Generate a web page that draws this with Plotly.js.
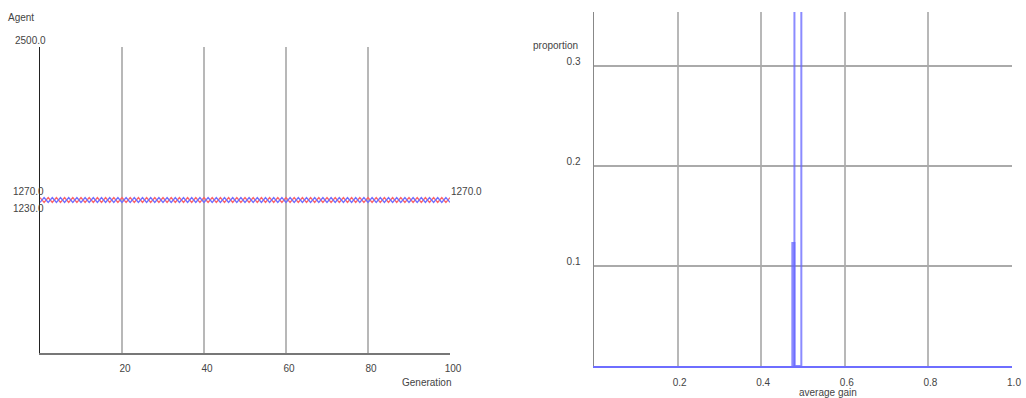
<!DOCTYPE html>
<html>
<head>
<meta charset="utf-8">
<script src="https://cdn.plot.ly/plotly-3.0.1.min.js"></script>
<style>html,body{margin:0;padding:0;background:#fff;}#chart{width:1026px;height:398px;}</style>
</head>
<body>
<div id="chart"></div>
<script>
// ---- Left chart: agent counts per generation ----
const generations = [
  0,1,2,3,4,5,6,7,8,9,
  10,11,12,13,14,15,16,17,18,19,
  20,21,22,23,24,25,26,27,28,29,
  30,31,32,33,34,35,36,37,38,39,
  40,41,42,43,44,45,46,47,48,49,
  50,51,52,53,54,55,56,57,58,59,
  60,61,62,63,64,65,66,67,68,69,
  70,71,72,73,74,75,76,77,78,79,
  80,81,82,83,84,85,86,87,88,89,
  90,91,92,93,94,95,96,97,98,99,
  100
];
const redAgents = [
  1270,1230,1270,1230,1270,1230,1270,1230,1270,1230,
  1270,1230,1270,1230,1270,1230,1270,1230,1270,1230,
  1270,1230,1270,1230,1270,1230,1270,1230,1270,1230,
  1270,1230,1270,1230,1270,1230,1270,1230,1270,1230,
  1270,1230,1270,1230,1270,1230,1270,1230,1270,1230,
  1270,1230,1270,1230,1270,1230,1270,1230,1270,1230,
  1270,1230,1270,1230,1270,1230,1270,1230,1270,1230,
  1270,1230,1270,1230,1270,1230,1270,1230,1270,1230,
  1270,1230,1270,1230,1270,1230,1270,1230,1270,1230,
  1270,1230,1270,1230,1270,1230,1270,1230,1270,1230,
  1270
];
const blueAgents = [
  1230,1270,1230,1270,1230,1270,1230,1270,1230,1270,
  1230,1270,1230,1270,1230,1270,1230,1270,1230,1270,
  1230,1270,1230,1270,1230,1270,1230,1270,1230,1270,
  1230,1270,1230,1270,1230,1270,1230,1270,1230,1270,
  1230,1270,1230,1270,1230,1270,1230,1270,1230,1270,
  1230,1270,1230,1270,1230,1270,1230,1270,1230,1270,
  1230,1270,1230,1270,1230,1270,1230,1270,1230,1270,
  1230,1270,1230,1270,1230,1270,1230,1270,1230,1270,
  1230,1270,1230,1270,1230,1270,1230,1270,1230,1270,
  1230,1270,1230,1270,1230,1270,1230,1270,1230,1270,
  1230
];
const leftXTicks = [20, 40, 60, 80, 100];
const leftYMax = 2500;
const leftYLabelTop = '2500.0';
const leftYLabelHigh = 1270;
const leftYLabelLow = 1230;

// ---- Right chart: histogram of average gain ----
const binEdges = [0.4745, 0.4795, 0.496];
const proportions = [0.123, 0.877];
const rightXTicks = [0.2, 0.4, 0.6, 0.8, 1.0];
const rightXTickText = ['0.2', '0.4', '0.6', '0.8', '1.0'];
const rightYTicks = [0.1, 0.2, 0.3];
const rightYTickText = ['0.1', '0.2', '0.3'];

const W = 1026, H = 398;
const px = v => v / W;
const py = v => 1 - v / H;

const FONT = {family: 'Liberation Sans, Arial, sans-serif', size: 10, color: '#444'};

const barCenters = proportions.map((_, i) => (binEdges[i] + binEdges[i + 1]) / 2);
const barWidths = proportions.map((_, i) => binEdges[i + 1] - binEdges[i]);

const traces = [
  {x: generations, y: redAgents, type: 'scatter', mode: 'lines',
   line: {color: 'rgb(255,100,100)', width: 1.3}, xaxis: 'x', yaxis: 'y', hoverinfo: 'skip'},
  {x: generations, y: blueAgents, type: 'scatter', mode: 'lines',
   line: {color: 'rgb(110,110,255)', width: 1.3}, xaxis: 'x', yaxis: 'y', hoverinfo: 'skip'},
  {x: barCenters, y: proportions, width: barWidths, type: 'bar',
   marker: {color: 'rgba(0,0,0,0)', line: {color: 'rgba(100,100,255,0.75)', width: 2}},
   xaxis: 'x2', yaxis: 'y2', hoverinfo: 'skip'}
];

const fmt = v => v.toFixed(1);

const ann = (text, x, y) => ({text, xref: 'paper', yref: 'paper', x: px(x), y: py(y),
  xanchor: 'center', yanchor: 'middle', showarrow: false, font: FONT});

const layout = {
  width: W, height: H,
  margin: {l: 0, r: 0, t: 0, b: 0},
  paper_bgcolor: '#fff', plot_bgcolor: '#fff',
  showlegend: false,
  font: FONT,
  xaxis: {
    domain: [px(40), px(450)], range: [0, 100],
    tickvals: leftXTicks, ticks: '', showgrid: true, gridcolor: '#b8b8b8', gridwidth: 2,
    zeroline: false, showline: true, linecolor: '#777', linewidth: 1.5,
    ticklabelstandoff: 5, ticklabelshift: 3, tickfont: FONT, anchor: 'y'
  },
  yaxis: {
    domain: [1 - 353 / H, 1 - 47 / H], range: [0, leftYMax],
    showticklabels: false, ticks: '', showgrid: false, zeroline: false,
    showline: true, linecolor: '#222', linewidth: 1.5, anchor: 'x'
  },
  xaxis2: {
    domain: [px(594), px(1012)], range: [0, 1],
    tickvals: rightXTicks, ticktext: rightXTickText, ticks: '',
    showgrid: true, gridcolor: '#b8b8b8', gridwidth: 2,
    zeroline: false, showline: true, linecolor: 'rgb(110,110,255)', linewidth: 2,
    ticklabelstandoff: 6, ticklabelshift: 2, tickfont: FONT, anchor: 'y2'
  },
  yaxis2: {
    domain: [1 - 366 / H, 1 - 12 / H], range: [0, 0.354],
    tickvals: rightYTicks, ticktext: rightYTickText, ticks: '',
    showgrid: true, gridcolor: '#aaa', gridwidth: 1.5,
    zeroline: false, showline: true, linecolor: '#888', linewidth: 1.5,
    ticklabelstandoff: 10, ticklabelshift: -5, tickfont: FONT, anchor: 'x2'
  },
  annotations: [
    ann('Agent', 21, 17),
    ann('Generation', 426, 382),
    ann('proportion', 555, 46),
    ann('average gain', 828, 392),
    {text: leftYLabelTop, xref: 'x', yref: 'y', x: 0, y: leftYMax, xanchor: 'right', yanchor: 'bottom',
     xshift: 8, yshift: -1, showarrow: false, font: FONT},
    {text: fmt(leftYLabelHigh), xref: 'x', yref: 'y', x: 0, y: leftYLabelHigh, xanchor: 'right', yanchor: 'bottom',
     xshift: 6, yshift: -1, showarrow: false, font: FONT},
    {text: fmt(leftYLabelLow), xref: 'x', yref: 'y', x: 0, y: leftYLabelLow, xanchor: 'right', yanchor: 'top',
     xshift: 6, yshift: 1, showarrow: false, font: FONT},
    {text: fmt(redAgents[redAgents.length - 1]), xref: 'x', yref: 'y', x: generations[generations.length - 1],
     y: redAgents[redAgents.length - 1], xanchor: 'left', yanchor: 'bottom', xshift: -1, yshift: -1, showarrow: false, font: FONT}
  ]
};

Plotly.newPlot('chart', traces, layout, {staticPlot: true, displayModeBar: false});
</script>
</body>
</html>
